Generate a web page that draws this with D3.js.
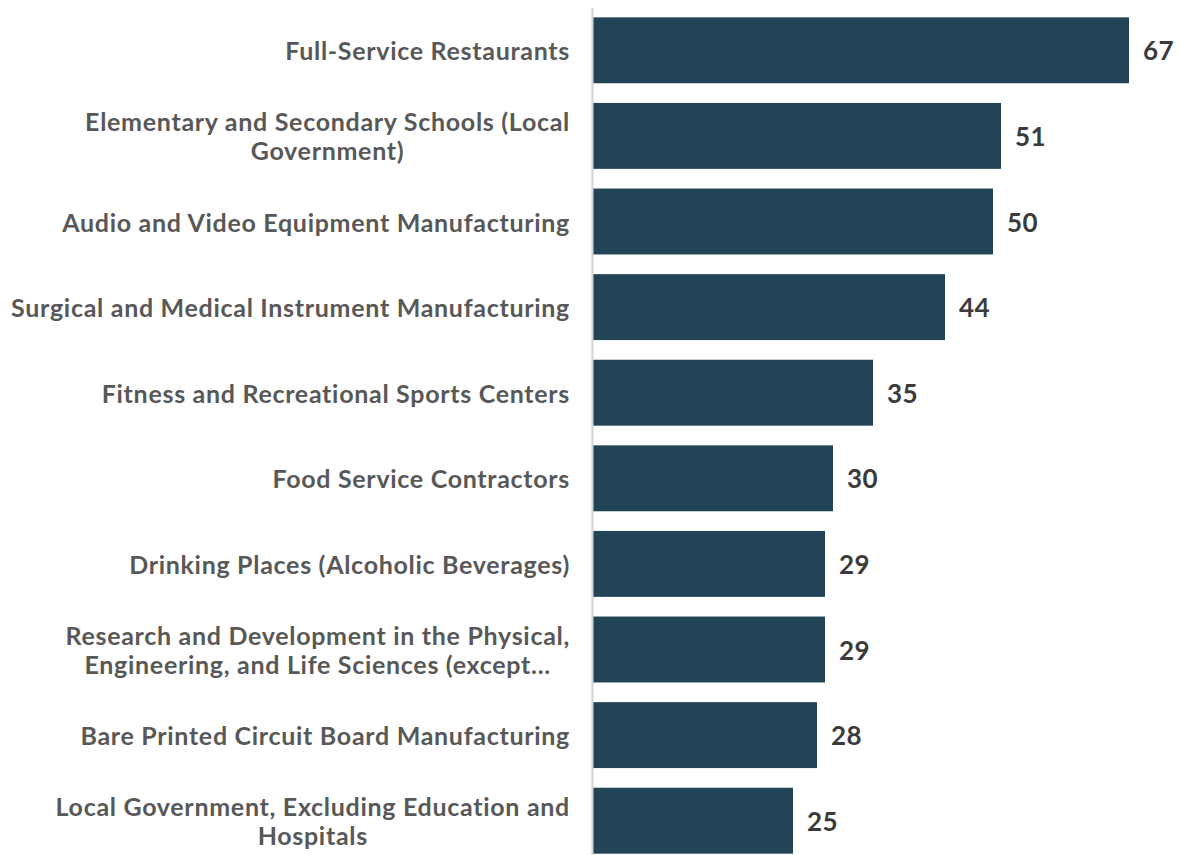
<!DOCTYPE html>
<html>
<head>
<meta charset="utf-8">
<script src="https://cdn.jsdelivr.net/npm/d3@7"></script>
<style>
  html, body { margin: 0; padding: 0; background: #ffffff; }
  svg { display: block; }
  .cat { font-family: Lato, "Open Sans", sans-serif; font-weight: 700; fill: #585858; letter-spacing: 0.7px; }
  .val { font-family: Lato, "Open Sans", sans-serif; font-weight: 700; fill: #3b3b3b; letter-spacing: 0.3px; }
</style>
</head>
<body>
<svg id="chart" width="1180" height="855"></svg>
<script>
// Industries, top to bottom ("\n" marks a line break in the label)
const categories = [
  "Full-Service Restaurants",
  "Elementary and Secondary Schools (Local\nGovernment)",
  "Audio and Video Equipment Manufacturing",
  "Surgical and Medical Instrument Manufacturing",
  "Fitness and Recreational Sports Centers",
  "Food Service Contractors",
  "Drinking Places (Alcoholic Beverages)",
  "Research and Development in the Physical,\nEngineering, and Life Sciences (except...",
  "Bare Printed Circuit Board Manufacturing",
  "Local Government, Excluding Education and\nHospitals"
];
const values = [67, 51, 50, 44, 35, 30, 29, 29, 28, 25];

const width = 1180, height = 855;
const plotLeft = 593, plotRight = 1129;
const svg = d3.select("#chart");

const data = categories.map((c, i) => ({ label: c, value: values[i] }));

const x = d3.scaleLinear()
  .domain([0, d3.max(values)])
  .range([plotLeft, plotRight]);

const y = d3.scaleBand()
  .domain(categories)
  .range([7.5, 863.5])
  .paddingInner(0.23)
  .paddingOuter(0.115);

// Bars
svg.append("g")
  .selectAll("rect")
  .data(data)
  .join("rect")
  .attr("x", x(0))
  .attr("y", d => y(d.label))
  .attr("width", d => x(d.value) - x(0))
  .attr("height", y.bandwidth())
  .attr("fill", "#214456");

// Vertical baseline
const axis = svg.append("g")
  .attr("transform", `translate(${plotLeft - 1},0)`)
  .call(d3.axisLeft(y).tickSize(0).tickSizeOuter(0).tickFormat(""));
axis.select(".domain").attr("stroke", "#d4d4d4").attr("stroke-width", 2);
axis.selectAll(".tick").remove();

// Category labels: right-aligned block, lines centered on each other
const labelRight = 570;
const lineH = 29;
const catG = svg.append("g");
data.forEach(d => {
  const lines = d.label.split("\n");
  const cy = y(d.label) + y.bandwidth() / 2;
  const t = catG.append("text")
    .attr("class", "cat")
    .attr("font-size", 25);
  lines.forEach((ln, i) => {
    t.append("tspan")
      .attr("y", cy + (i - (lines.length - 1) / 2) * lineH)
      .attr("dominant-baseline", "central")
      .text(ln);
  });
  // width of the widest line sets the block's center
  let maxW = 0;
  t.selectAll("tspan").each(function () {
    maxW = Math.max(maxW, this.getComputedTextLength());
  });
  if (lines.length === 1) {
    t.attr("text-anchor", "end");
    t.selectAll("tspan").attr("x", labelRight);
  } else {
    t.attr("text-anchor", "middle");
    t.selectAll("tspan").attr("x", labelRight - maxW / 2);
  }
});

// Value labels
svg.append("g")
  .selectAll("text")
  .data(data)
  .join("text")
  .attr("class", "val")
  .attr("font-size", 26)
  .attr("x", d => x(d.value) + 14)
  .attr("y", d => y(d.label) + y.bandwidth() / 2)
  .attr("dominant-baseline", "central")
  .text(d => d3.format("d")(d.value));
</script>
</body>
</html>
